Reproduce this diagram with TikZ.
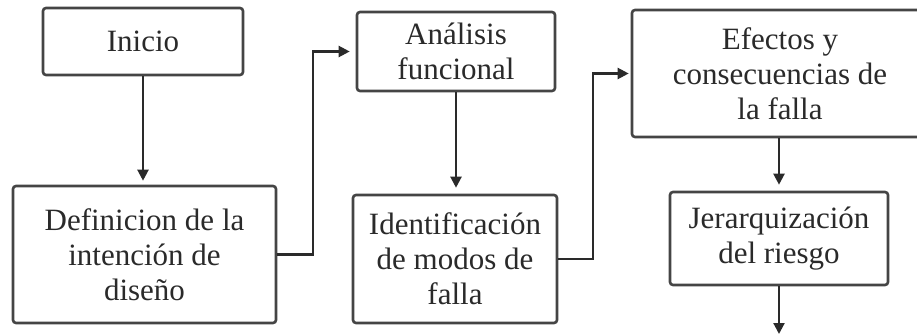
\documentclass[tikz,border=0pt]{standalone}
\usepackage{fontspec}
\setmainfont{Liberation Serif}
\usetikzlibrary{arrows.meta}
\definecolor{edge}{HTML}{454545}
\definecolor{ink}{HTML}{2A2A2A}
\tikzset{
  stepbox/.style={draw=edge, line width=2.6pt, rounded corners=3pt, fill=white,
    inner sep=0pt, align=center, text=ink,
    font=\fontsize{31}{35}\selectfont},
  link/.style={draw=ink, line width=2.2pt,
    -{Triangle[length=11pt,width=11pt]}, shorten >=4pt}
}
\begin{document}
\begin{tikzpicture}[x=1pt,y=-1pt]
  \useasboundingbox (0,0) rectangle (917,334);
  \clip (0,0) rectangle (917,334);

  \node[stepbox, minimum width=200pt, minimum height=67pt] (inicio) at (143,41.5) {Inicio};
  \node[stepbox, minimum width=263pt, minimum height=137pt] (defin) at (144.5,254.5)
    {Definicion de la\\intención de\\diseño};
  \node[stepbox, minimum width=198pt, minimum height=79pt] (anal) at (456,51.5)
    {Análisis\\funcional};
  \node[stepbox, minimum width=204pt, minimum height=128pt] (ident) at (455,259)
    {Identificación\\de modos de\\falla};
  \node[stepbox, minimum width=296pt, minimum height=127pt] (efect) at (780,73.5)
    {Efectos y\\consecuencias de\\la falla};
  \node[stepbox, minimum width=218pt, minimum height=93pt] (jer) at (779,238.5)
    {Jerarquización\\del riesgo};

  \coordinate (out) at (779,336);

  \draw[link] (inicio.south) -- (inicio.south |- defin.north);
  \draw[link, shorten >=6pt] (defin.east) -- ++(36,0) |- (anal.west);
  \draw[link, shorten >=6pt] (anal.south) -- (anal.south |- ident.north);
  \draw[link, shorten >=2pt] (ident.east) -- ++(35,0) |- (efect.west);
  \draw[link, shorten >=6pt] (efect.south -| jer.north) -- (jer.north);
  \draw[link, shorten >=2pt] (jer.south) -- (out);
\end{tikzpicture}
\end{document}
